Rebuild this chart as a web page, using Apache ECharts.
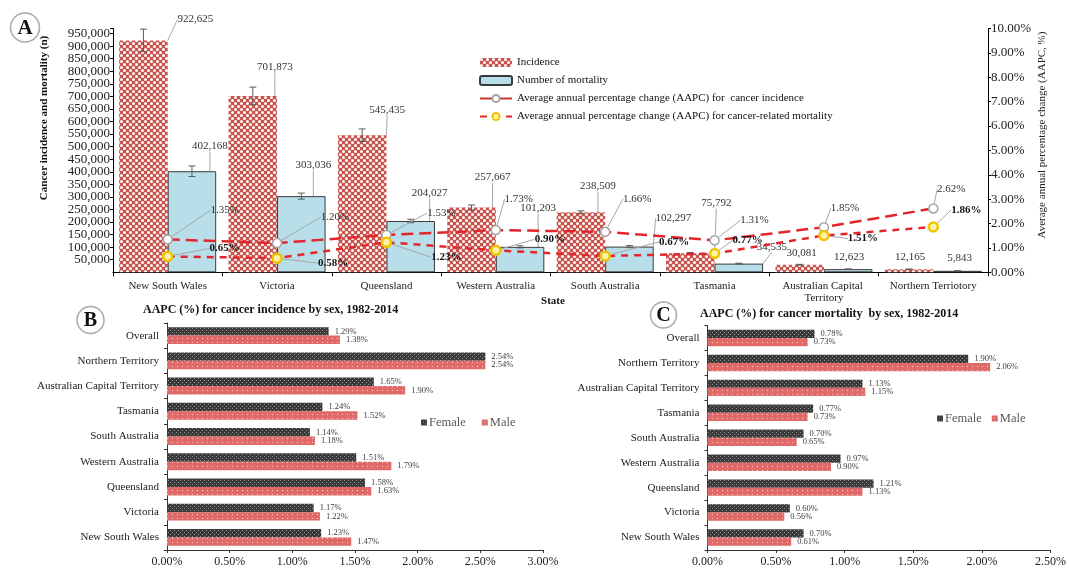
<!DOCTYPE html>
<html>
<head>
<meta charset="utf-8">
<script src="https://cdn.jsdelivr.net/npm/echarts@6/dist/echarts.min.js"></script>
<style>
  html, body { margin: 0; padding: 0; background: #fff; }
  #chart { width: 1069px; height: 568px; }
</style>
</head>
<body>
<div id="chart"></div>
<script>
// ---- Panel A: counts and AAPC by state ----
const states = ['New South Wales', 'Victoria', 'Queensland', 'Western Australia', 'South Australia',
  'Tasmania', 'Australian Capital Territory', 'Northern Terriotory'];
const incidence = [922625, 701873, 545435, 257667, 238509, 75792, 30081, 12165];
const incidenceErr = [45000, 35000, 25000, 10000, 6000, 3000, 1500, 700];
const mortality = [402168, 303036, 204027, 101203, 102297, 34535, 12623, 5843];
const mortalityErr = [21000, 12000, 7000, 4000, 4000, 1500, 700, 300];
const aapcIncidence = [1.35, 1.20, 1.53, 1.73, 1.66, 1.31, 1.85, 2.62];
const aapcMortality = [0.65, 0.58, 1.23, 0.90, 0.67, 0.77, 1.51, 1.86];

// ---- Panels B and C: AAPC by sex ----
const sexCategories = ['Overall', 'Northern Territory', 'Australian Capital Territory', 'Tasmania',
  'South Australia', 'Western Australia', 'Queensland', 'Victoria', 'New South Wales'];
const incFemale = [1.29, 2.54, 1.65, 1.24, 1.14, 1.51, 1.58, 1.17, 1.23];
const incMale = [1.38, 2.54, 1.90, 1.52, 1.18, 1.79, 1.63, 1.22, 1.47];
const mortFemale = [0.78, 1.90, 1.13, 0.77, 0.70, 0.97, 1.21, 0.60, 0.70];
const mortMale = [0.73, 2.06, 1.15, 0.73, 0.65, 0.90, 1.13, 0.56, 0.61];

const NAME_INC = 'Incidence';
const NAME_MORT = 'Number of mortality';
const NAME_AAPC_INC = 'Average annual percentage change (AAPC) for  cancer incidence';
const NAME_AAPC_MORT = 'Average annual percentage change (AAPC) for cancer-related mortality';

// Callout placement (label centre relative to the top of each bar / centre of each marker)
const incLabelShift = [[52, -21], [22, -29], [25, -25], [21, -30], [17, -26], [26, -50], [2, -12], [1, -12]];
const mortLabelShift = [[18, -25], [12, -31], [19, -28], [18, -39], [44, -28], [33, -17], [1, -12], [2, -13]];
const aapcIncShift = [[57, -29], [58, -26], [55, -22], [23, -31], [32, -33], [40, -20], [21, -19], [18, -19]];
const aapcMortShift = [[57, -8], [56, 5], [60, 15], [54, -11], [69, -14], [33, -13], [39, 3], [33, -17]];
const barLeader = [true, true, true, true, true, true, false, false];

const FONT = 'Liberation Serif';
const GAP_A = 0.113;

function makePattern(w, h, draw) {
  const c = document.createElement('canvas');
  c.width = w; c.height = h;
  draw(c.getContext('2d'));
  return c;
}
const incPattern = makePattern(6, 6, g => {
  g.fillStyle = '#c9534d'; g.fillRect(0, 0, 6, 6);
  g.fillStyle = '#ffffff';
  [[1.5, 1.5], [4.5, 4.5]].forEach(([x, y]) => { g.beginPath(); g.arc(x, y, 1.5, 0, Math.PI * 2); g.fill(); });
});
const femalePattern = makePattern(4, 4, g => {
  g.fillStyle = '#3a3a3a'; g.fillRect(0, 0, 4, 4);
  g.fillStyle = '#8f8f8f'; g.fillRect(0, 0, 1, 1); g.fillRect(2, 2, 1, 1);
});
const malePattern = makePattern(5, 4, g => {
  g.fillStyle = '#e06a68'; g.fillRect(0, 0, 5, 4);
  g.fillStyle = '#f6cdcc'; g.fillRect(2, 2, 1, 1);
});

const thousands = v => v.toLocaleString('en-US');
const pct = v => Number(v).toFixed(2) + '%';

function barLabelLayout(shift) {
  return p => {
    const s = shift[p.dataIndex], r = p.rect;
    return { x: r.x + r.width / 2 + s[0], y: r.y + s[1], align: 'center', verticalAlign: 'middle' };
  };
}
function pointLabelLayout(shift) {
  return p => {
    const s = shift[p.dataIndex], r = p.rect;
    return { x: r.x + r.width / 2 + s[0], y: r.y + r.height / 2 + s[1], align: 'center', verticalAlign: 'middle' };
  };
}
function errorBars(side) {
  return (params, api) => {
    const i = api.value(0), v = api.value(1), e = api.value(2);
    const band = api.size([1, 0])[0];
    const bw = band * (1 - GAP_A) / 2;
    const x = api.coord([i, v])[0] + side * bw / 2;
    const yTop = api.coord([i, v + e])[1];
    const yBot = api.coord([i, v - e])[1];
    const cap = 3.5;
    const st = { stroke: '#5a5a5a', lineWidth: 1 };
    return {
      type: 'group', children: [
        { type: 'line', shape: { x1: x, y1: yTop, x2: x, y2: yBot }, style: st },
        { type: 'line', shape: { x1: x - cap, y1: yTop, x2: x + cap, y2: yTop }, style: st },
        { type: 'line', shape: { x1: x - cap, y1: yBot, x2: x + cap, y2: yBot }, style: st }
      ]
    };
  };
}

const leaderStyle = { color: '#a6a6a6', width: 1 };
const incData = incidence.map((v, i) => ({ value: v, labelLine: { show: barLeader[i] } }));
const mortData = mortality.map((v, i) => ({ value: v, labelLine: { show: barLeader[i] } }));

const sexLabel = {
  show: true, position: 'right', distance: 6, formatter: p => pct(p.value),
  fontFamily: FONT, fontSize: 8.5, color: '#404040'
};
const catAxisB = (gridIndex, data) => ({
  type: 'category', gridIndex, data, inverse: true,
  axisLine: { lineStyle: { color: '#333', width: 1 } },
  axisTick: { show: true, length: 3, lineStyle: { color: '#333' } },
  axisLabel: { fontFamily: FONT, fontSize: 11, color: '#222', margin: 8 }
});
const valAxisB = (gridIndex, max) => ({
  type: 'value', gridIndex, min: 0, max, interval: 0.5,
  splitLine: { show: false },
  axisLine: { show: true, lineStyle: { color: '#333', width: 1 } },
  axisTick: { show: true, length: 3, lineStyle: { color: '#333' } },
  axisLabel: { fontFamily: FONT, fontSize: 12, color: '#222', margin: 6, formatter: v => pct(v) }
});

const option = {
  animation: false,
  backgroundColor: '#ffffff',
  textStyle: { fontFamily: FONT },
  grid: [
    { left: 113, right: 81, top: 28.5, height: 243.8 },
    { left: 167, right: 526, top: 323, height: 228 },
    { left: 707.5, right: 14, top: 325.5, height: 225 }
  ],
  legend: [
    {
      data: [
        { name: NAME_INC },
        { name: NAME_MORT },
        { name: NAME_AAPC_INC, lineStyle: { type: 'solid', color: '#c0392b' } },
        { name: NAME_AAPC_MORT }
      ],
      orient: 'vertical', left: 479, top: 57, padding: 0,
      itemWidth: 32, itemHeight: 9, itemGap: 7,
      textStyle: { fontFamily: FONT, fontSize: 11, color: '#111' }
    },
    {
      data: ['Female', 'Male'], orient: 'horizontal', left: 421, top: 416, padding: 0,
      icon: 'rect', itemWidth: 6, itemHeight: 6, itemGap: 16,
      textStyle: { fontFamily: FONT, fontSize: 12.5, color: '#595959', padding: [0, 0, 0, -3] }
    },
    {
      data: ['Female', 'Male'], orient: 'horizontal', left: 937, top: 412, padding: 0,
      icon: 'rect', itemWidth: 6, itemHeight: 6, itemGap: 10,
      textStyle: { fontFamily: FONT, fontSize: 12.5, color: '#595959', padding: [0, 0, 0, -3] }
    }
  ],
  xAxis: [
    {
      type: 'category', gridIndex: 0, data: states,
      axisLine: { lineStyle: { color: '#000', width: 1 } },
      axisTick: { show: true, length: 4, lineStyle: { color: '#000' } },
      axisLabel: { fontFamily: FONT, fontSize: 11, color: '#222', margin: 8, width: 108, overflow: 'break', lineHeight: 12, interval: 0 }
    },
    valAxisB(1, 3),
    valAxisB(2, 2.5)
  ],
  yAxis: [
    {
      type: 'value', gridIndex: 0, min: 0, max: 970000, interval: 50000,
      splitLine: { show: false },
      axisLine: { show: true, lineStyle: { color: '#000', width: 1 } },
      axisTick: { show: true, length: 3, lineStyle: { color: '#000' } },
      axisLabel: {
        fontFamily: FONT, fontSize: 13, color: '#222', margin: 3,
        formatter: v => (v === 0 ? '-' : (v % 50000 === 0 ? thousands(v) : ''))
      }
    },
    {
      type: 'value', gridIndex: 0, position: 'right', min: 0, max: 10, interval: 1,
      splitLine: { show: false },
      axisLine: { show: true, lineStyle: { color: '#000', width: 1 } },
      axisTick: { show: true, length: 3, lineStyle: { color: '#000' } },
      axisLabel: { fontFamily: FONT, fontSize: 13, color: '#222', margin: 3, formatter: v => pct(v) }
    },
    catAxisB(1, sexCategories),
    catAxisB(2, sexCategories)
  ],
  series: [
    {
      name: NAME_INC, type: 'bar', xAxisIndex: 0, yAxisIndex: 0, data: incData,
      barGap: '0%', barCategoryGap: (GAP_A * 100) + '%',
      itemStyle: { color: { image: incPattern, repeat: 'repeat' } },
      label: { show: true, position: 'top', formatter: p => thousands(p.value), fontFamily: FONT, fontSize: 11, color: '#333' },
      labelLayout: barLabelLayout(incLabelShift),
      labelLine: { show: true, lineStyle: leaderStyle }
    },
    {
      name: NAME_MORT, type: 'bar', xAxisIndex: 0, yAxisIndex: 0, data: mortData,
      barGap: '0%', barCategoryGap: (GAP_A * 100) + '%',
      itemStyle: { color: '#b8dfe9', borderColor: '#3a3a3a', borderWidth: 1 },
      label: { show: true, position: 'top', formatter: p => thousands(p.value), fontFamily: FONT, fontSize: 11, color: '#333' },
      labelLayout: barLabelLayout(mortLabelShift),
      labelLine: { show: true, lineStyle: leaderStyle }
    },
    {
      type: 'custom', xAxisIndex: 0, yAxisIndex: 0, z: 3,
      renderItem: errorBars(-1),
      data: incidence.map((v, i) => [i, v, incidenceErr[i]]),
      encode: { x: 0, y: 1 }, silent: true
    },
    {
      type: 'custom', xAxisIndex: 0, yAxisIndex: 0, z: 3,
      renderItem: errorBars(1),
      data: mortality.map((v, i) => [i, v, mortalityErr[i]]),
      encode: { x: 0, y: 1 }, silent: true
    },
    {
      name: NAME_AAPC_INC, type: 'line', xAxisIndex: 0, yAxisIndex: 1, data: aapcIncidence, z: 5,
      symbol: 'circle', symbolSize: 9,
      itemStyle: { color: '#ffffff', borderColor: '#a5a5a5', borderWidth: 1.5 },
      lineStyle: { color: '#e3262b', width: 2.5, type: [12, 6] },
      label: { show: true, formatter: p => pct(p.value), fontFamily: FONT, fontSize: 11, color: '#333' },
      labelLayout: pointLabelLayout(aapcIncShift),
      labelLine: { show: true, lineStyle: leaderStyle }
    },
    {
      name: NAME_AAPC_MORT, type: 'line', xAxisIndex: 0, yAxisIndex: 1, data: aapcMortality, z: 5,
      symbol: 'circle', symbolSize: 9,
      itemStyle: { color: '#fff3a6', borderColor: '#f2c200', borderWidth: 2.5 },
      lineStyle: { color: '#e3262b', width: 2.5, type: [7, 6] },
      label: { show: true, formatter: p => pct(p.value), fontFamily: FONT, fontSize: 11, fontWeight: 'bold', color: '#111' },
      labelLayout: pointLabelLayout(aapcMortShift),
      labelLine: { show: true, lineStyle: leaderStyle }
    },
    {
      name: 'Female', type: 'bar', xAxisIndex: 1, yAxisIndex: 2, data: incFemale,
      barGap: '0%', barCategoryGap: '33%',
      itemStyle: { color: { image: femalePattern, repeat: 'repeat' } }, label: sexLabel
    },
    {
      name: 'Male', type: 'bar', xAxisIndex: 1, yAxisIndex: 2, data: incMale,
      barGap: '0%', barCategoryGap: '33%',
      itemStyle: { color: { image: malePattern, repeat: 'repeat' } }, label: sexLabel
    },
    {
      name: 'Female', type: 'bar', xAxisIndex: 2, yAxisIndex: 3, data: mortFemale,
      barGap: '0%', barCategoryGap: '34%',
      itemStyle: { color: { image: femalePattern, repeat: 'repeat' } }, label: sexLabel
    },
    {
      name: 'Male', type: 'bar', xAxisIndex: 2, yAxisIndex: 3, data: mortMale,
      barGap: '0%', barCategoryGap: '34%',
      itemStyle: { color: { image: malePattern, repeat: 'repeat' } }, label: sexLabel
    }
  ],
  graphic: [
    // panel badges
    { type: 'circle', shape: { cx: 25, cy: 27.5, r: 14.5 }, style: { fill: '#fff', stroke: '#a3aab3', lineWidth: 1.5 } },
    { type: 'text', x: 25, y: 28.5, style: { text: 'A', font: 'bold 21px "Liberation Serif"', fill: '#111', align: 'center', verticalAlign: 'middle', textAlign: 'center', textVerticalAlign: 'middle' } },
    { type: 'circle', shape: { cx: 90.5, cy: 320, r: 13.5 }, style: { fill: '#fff', stroke: '#a3aab3', lineWidth: 1.5 } },
    { type: 'text', x: 90.5, y: 321, style: { text: 'B', font: 'bold 20px "Liberation Serif"', fill: '#111', align: 'center', verticalAlign: 'middle', textAlign: 'center', textVerticalAlign: 'middle' } },
    { type: 'circle', shape: { cx: 663.5, cy: 315, r: 13 }, style: { fill: '#fff', stroke: '#a3aab3', lineWidth: 1.5 } },
    { type: 'text', x: 663.5, y: 316, style: { text: 'C', font: 'bold 20px "Liberation Serif"', fill: '#111', align: 'center', verticalAlign: 'middle', textAlign: 'center', textVerticalAlign: 'middle' } },
    // axis titles
    { type: 'text', x: 44, y: 118, rotation: Math.PI / 2, style: { text: 'Cancer incidence and mortality (n)', font: 'bold 11px "Liberation Serif"', fill: '#111', align: 'center', verticalAlign: 'middle', textAlign: 'center', textVerticalAlign: 'middle' } },
    { type: 'text', x: 1042, y: 135, rotation: Math.PI / 2, style: { text: 'Average annual percentage change (AAPC, %)', font: '11px "Liberation Serif"', fill: '#222', align: 'center', verticalAlign: 'middle', textAlign: 'center', textVerticalAlign: 'middle' } },
    { type: 'text', x: 553, y: 301, style: { text: 'State', font: 'bold 11px "Liberation Serif"', fill: '#111', align: 'center', verticalAlign: 'middle', textAlign: 'center', textVerticalAlign: 'middle' } },
    // panel titles
    { type: 'text', x: 143, y: 310, style: { text: 'AAPC (%) for cancer incidence by sex, 1982-2014', font: 'bold 12px "Liberation Serif"', fill: '#111', align: 'left', verticalAlign: 'middle', textAlign: 'left', textVerticalAlign: 'middle' } },
    { type: 'text', x: 700, y: 314, style: { text: 'AAPC (%) for cancer mortality  by sex, 1982-2014', font: 'bold 12px "Liberation Serif"', fill: '#111', align: 'left', verticalAlign: 'middle', textAlign: 'left', textVerticalAlign: 'middle' } }
  ]
};

const chart = echarts.init(document.getElementById('chart'), null, { renderer: 'canvas' });
chart.setOption(option);
</script>
</body>
</html>
